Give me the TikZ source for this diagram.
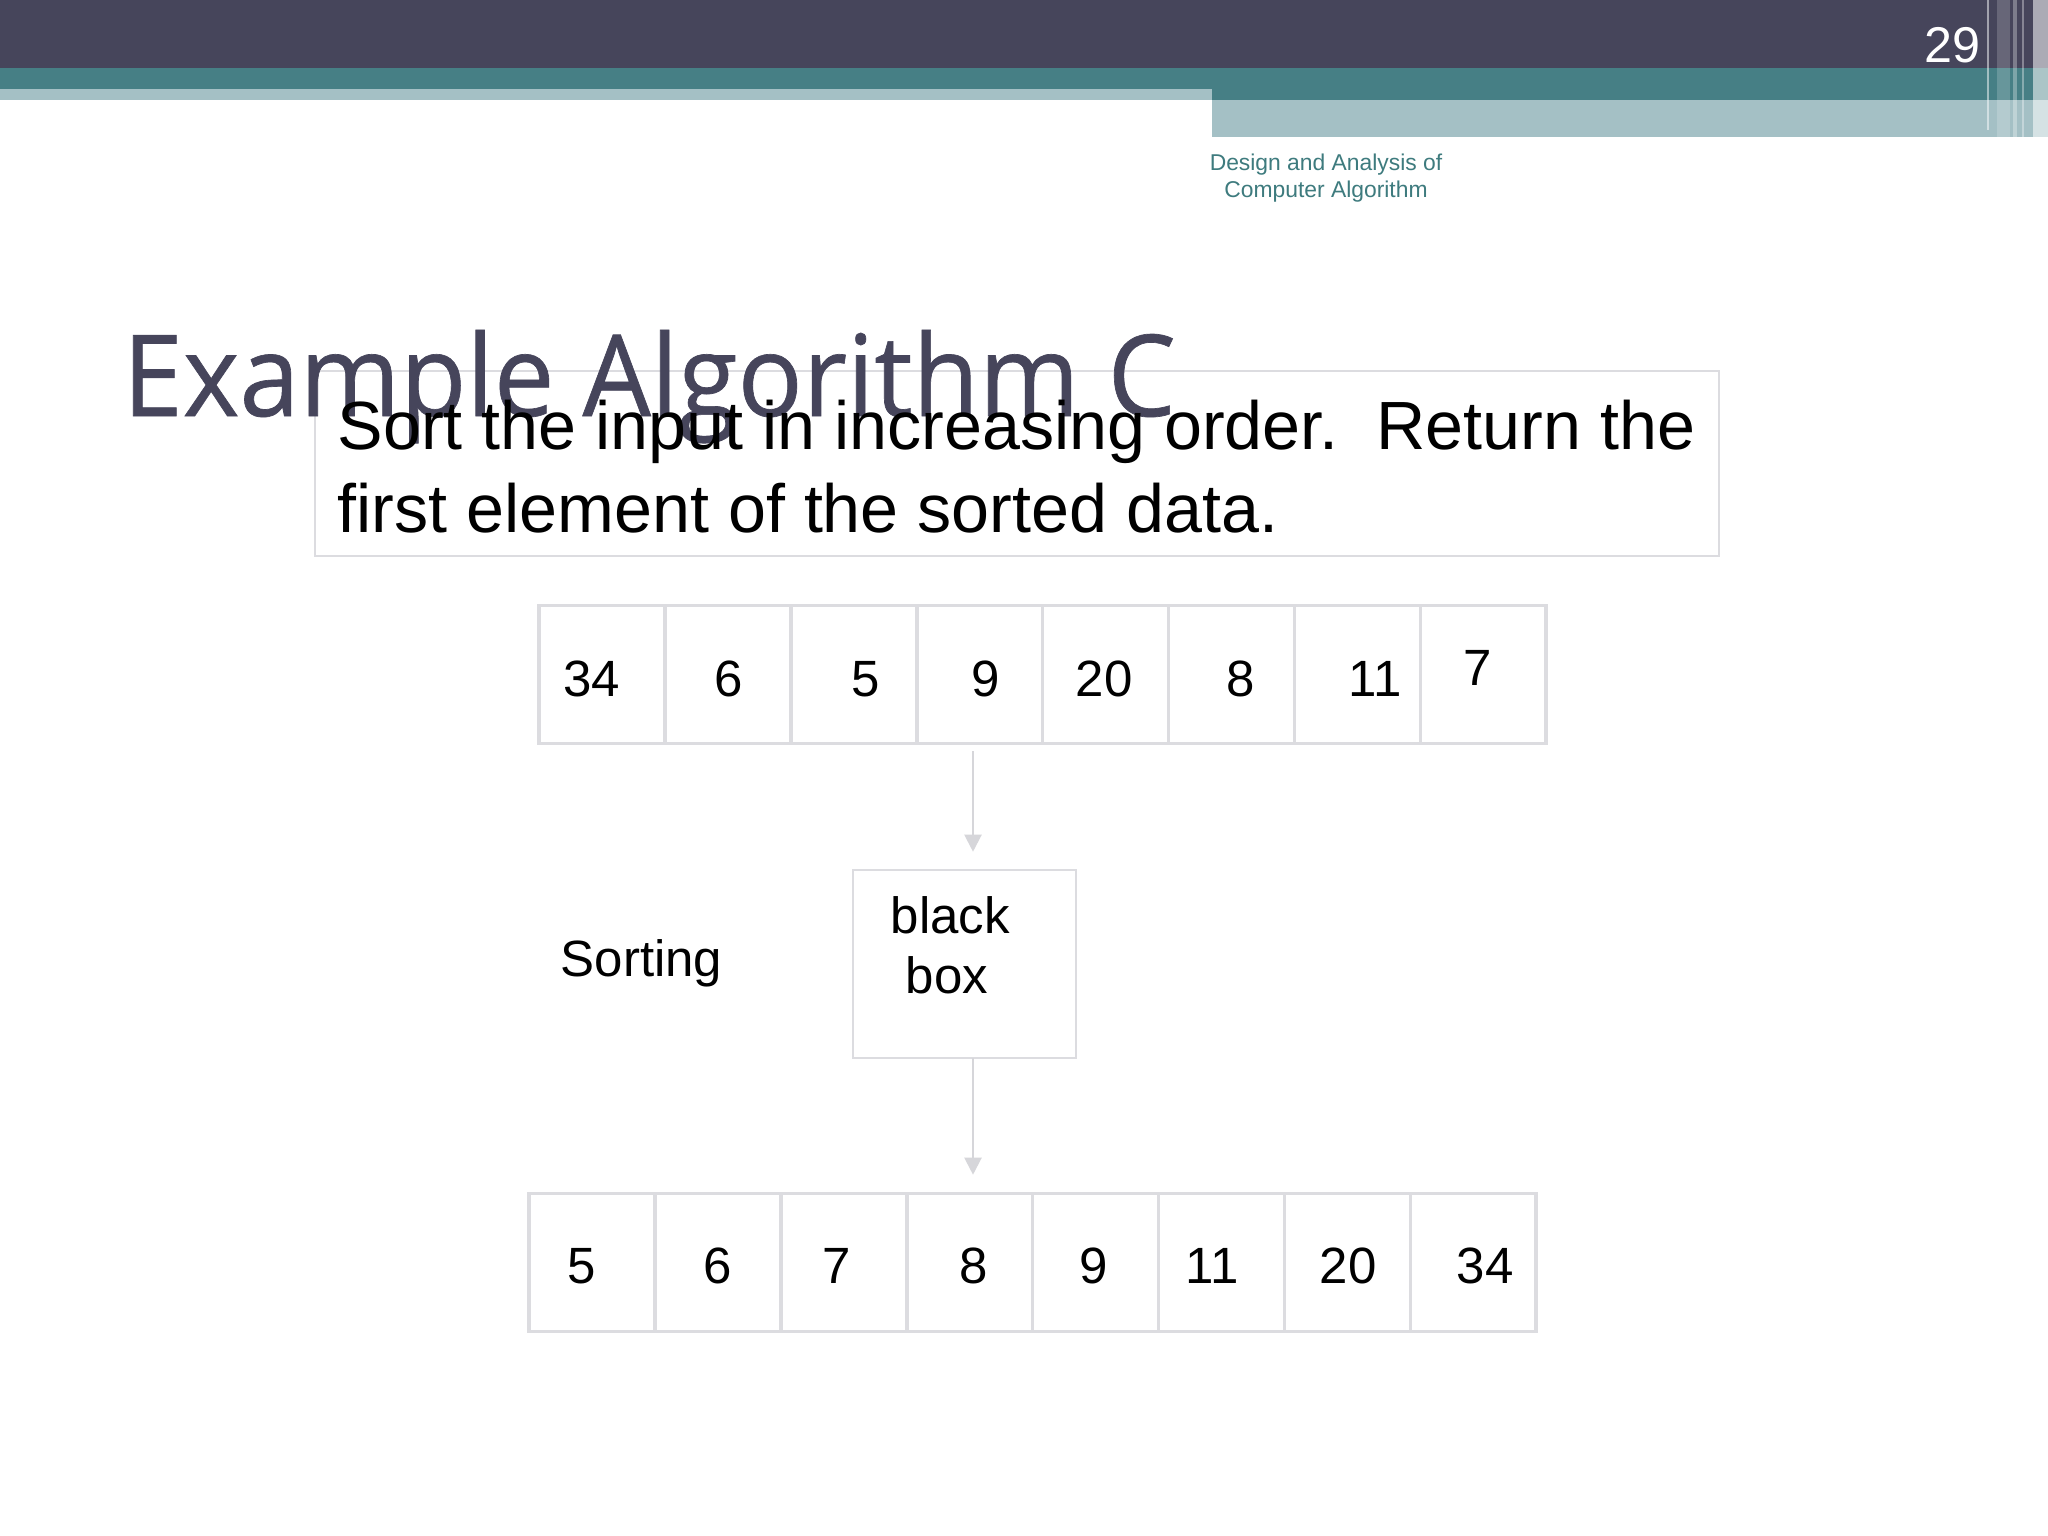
\documentclass[tikz,border=0pt]{standalone}
\usepackage{fontspec}
\setmainfont{Liberation Sans}
\newfontfamily\titlefont{Open Sans}[BoldFont={Open Sans}, BoldFeatures={FakeBold=0.6}]
\usetikzlibrary{arrows.meta}
\definecolor{barc}{HTML}{46455B}
\definecolor{tealc}{HTML}{467F85}
\definecolor{lightc}{HTML}{A4C0C5}
\definecolor{headc}{HTML}{3E7B7E}
\definecolor{cellc}{HTML}{DCDCE0}
\definecolor{arrc}{HTML}{D6D6DA}
\tikzset{
  cellbox/.style={draw=cellc, line width=1pt, minimum width=1.259cm, minimum height=1.38cm, inner sep=0pt},
  numlbl/.style={anchor=base, inner sep=0pt, font=\fontsize{14.5}{17}\selectfont},
  lbl/.style={anchor=base west, inner sep=0pt, font=\fontsize{14.5}{17}\selectfont},
  arr/.style={draw=arrc, line width=0.6pt, -{Triangle[length=0.17cm,width=0.17cm]}},
  headtxt/.style={anchor=base, inner sep=0pt, text=headc, font=\fontsize{6.5}{8}\selectfont},
  mainline/.style={anchor=base west, inner sep=0pt, font=\fontsize{19.4}{23}\selectfont}
}
\begin{document}
\begin{tikzpicture}[x=0.01cm, y=-0.01cm]
\useasboundingbox (0,0) rectangle (2048,1536);
\fill[white] (0,0) rectangle (2048,1536);
% header bars
\fill[barc] (0,0) rectangle (2048,68);
\fill[tealc] (0,68) rectangle (2048,89);
\fill[tealc] (1212,89) rectangle (2048,100);
\fill[lightc] (0,89) rectangle (1212,100);
\fill[lightc] (1212,100) rectangle (2048,137);
% right side vertical stripes
\fill[white, opacity=0.5] (1987,0) rectangle (1989,130);
\fill[white, opacity=0.18] (1997,0) rectangle (2010,138);
\fill[white, opacity=0.3] (2013,0) rectangle (2017,138);
\fill[white, opacity=0.35] (2022,0) rectangle (2024,138);
\fill[white, opacity=0.55] (2033,0) rectangle (2048,138);
\node[anchor=base east, inner sep=0pt, text=white, font=\fontsize{14.3}{16}\selectfont] (pg) at (1981,62) {29};
% header text
\node[headtxt] (h1) at (1326,170) {Design and Analysis of};
\node[headtxt] (h2) at (1326,197) {Computer Algorithm};
% text box
\draw[draw=cellc, line width=0.7pt] (315,371) rectangle (1719,556);
\node[anchor=base west, inner sep=0pt, text=barc, font=\titlefont\bfseries\fontsize{32.2}{38}\selectfont] (title) at (122,416) {\scalebox{0.955}[1]{Example Algorithm C}};
\node[mainline] (m1) at (337,449) {Sort the input in increasing order.\ \ Return the};
\node[mainline] (m2) at (337,532) {first element of the sorted data.};
% top array
\foreach \i/\v/\x in {1/34/592,2/6/729,3/5/866,4/9/986,5/20/1104,6/8/1241,7/11/1375}{
  \node[cellbox] (t\i) at ({539+125.9*(\i-0.5)},674.5) {};
  \node[numlbl] (tn\i) at (\x,696) {\v};
}
\node[cellbox] (t8) at ({539+125.9*7.5},674.5) {};
\node[numlbl] (tn8) at (1478,685) {7};
% black box
\node[draw=cellc, line width=0.7pt, minimum width=2.23cm, minimum height=1.88cm, inner sep=0pt] (bb) at (964.5,964) {};
\node[lbl] (bl1) at (890,933) {black};
\node[lbl] (bl2) at (905,993) {box};
\node[lbl] (sort) at (560,976) {Sorting};
% bottom array
\foreach \i/\v/\x in {1/5/582,2/6/718,3/7/837,4/8/974,5/9/1094,6/11/1212,7/20/1348,8/34/1485}{
  \node[cellbox] (b\i) at ({529+125.9*(\i-0.5)},1262.5) {};
  \node[numlbl] (bn\i) at (\x,1283) {\v};
}
% arrows
\coordinate (a1) at (973,751);
\draw[arr, shorten >=0.17cm] (a1) -- (a1 |- bb.north);
\coordinate (a2) at (973,1058);
\draw[arr, shorten >=0.17cm] (a2) -- (a2 |- b4.north);
\end{tikzpicture}
\end{document}
